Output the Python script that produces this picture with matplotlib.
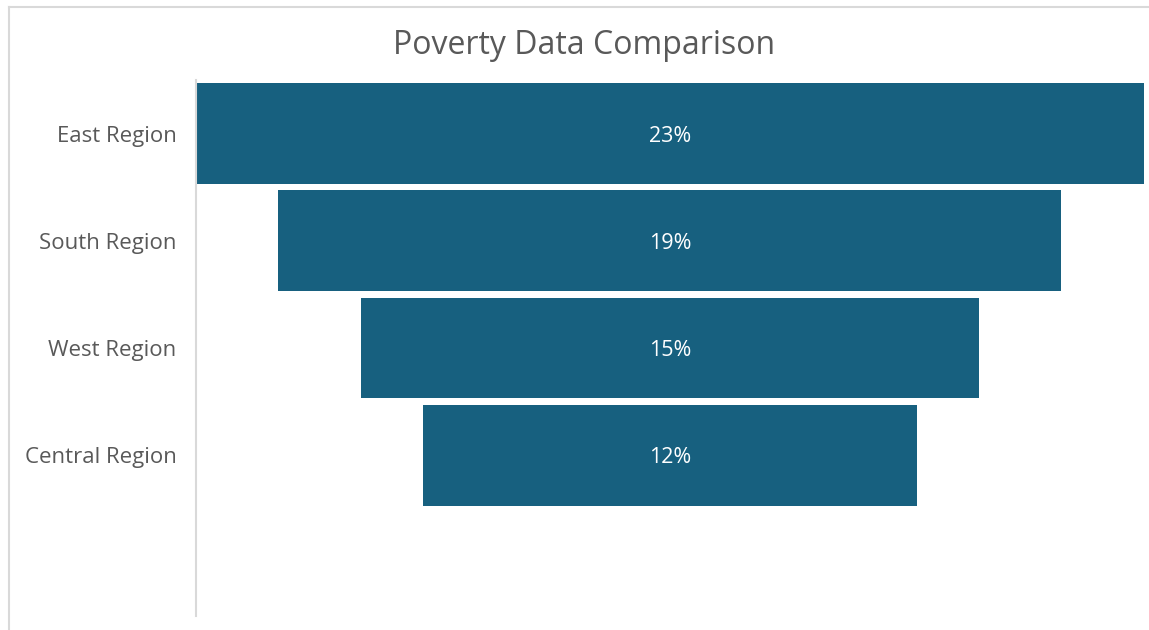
import matplotlib.pyplot as plt
from matplotlib.lines import Line2D

regions = ["East Region", "South Region", "West Region", "Central Region", ""]
poverty = [23, 19, 15, 12]

bar_color = "#17607f"
text_color = "#595959"

plt.rcParams['font.family'] = ['Open Sans', 'DejaVu Sans']

fig = plt.figure(figsize=(11.49, 6.3), dpi=100)
ax = fig.add_axes([196 / 1149, 1 - 616 / 630, 953 / 1149, 536 / 630])

# funnel: every bar centred on zero
ypos = list(range(len(poverty)))
lefts = [-v / 2 for v in poverty]
bars = ax.barh(ypos, poverty, left=lefts, height=0.94, color=bar_color)
for b, v in zip(bars, poverty):
    ax.text(b.get_x() + b.get_width() / 2, b.get_y() + b.get_height() / 2,
            f"{v}%", ha='center', va='center_baseline', color='white', fontsize=15.5)

ax.set_ylim(len(regions) - 0.5, -0.5)
ax.set_xlim(-11.5, 11.63)
ax.set_yticks(range(len(regions)))
ax.set_yticklabels(regions, fontsize=16, color=text_color)
ax.tick_params(axis='y', length=0, pad=14)
ax.set_xticks([])
for side in ['top', 'right', 'bottom']:
    ax.spines[side].set_visible(False)
ax.spines['left'].set_color('#d9d9d9')
ax.spines['left'].set_linewidth(1.5)

fig.text(584 / 1149, 1 - 46 / 630, "Poverty Data Comparison", ha='center', va='center',
         fontsize=23, color=text_color)

# chart frame
fx = 8.5 / 1149
fy = 1 - 6.5 / 630
fig.add_artist(Line2D([fx, 1], [fy, fy], color='#d9d9d9', lw=1.5))
fig.add_artist(Line2D([fx, fx], [0, fy], color='#d9d9d9', lw=1.5))

fig.savefig("out.png", dpi=100, facecolor='white')
